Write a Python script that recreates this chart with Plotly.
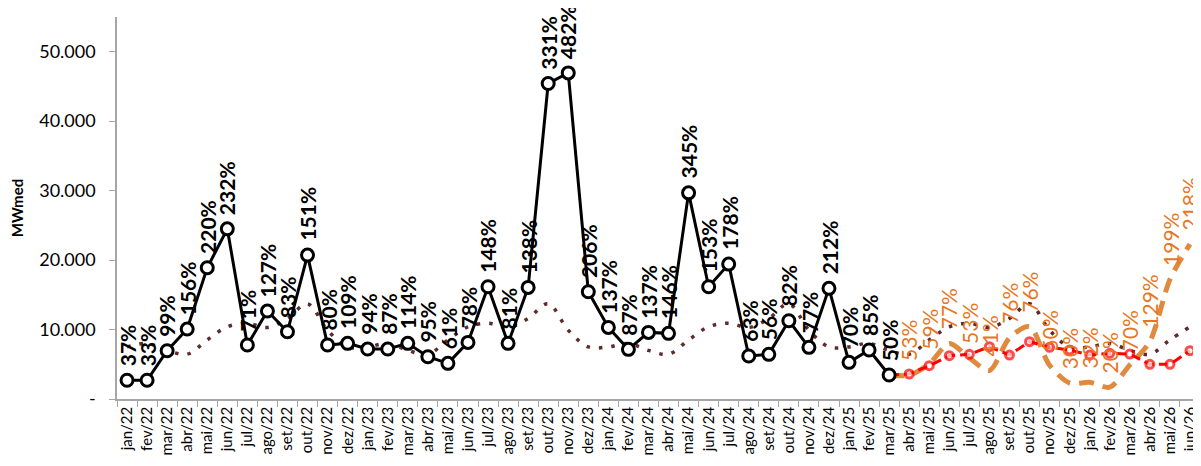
import plotly.graph_objects as go

# Categorias (jan/22 a jun/26)
meses_nome = ["jan", "fev", "mar", "abr", "mai", "jun", "jul", "ago", "set", "out", "nov", "dez"]
meses = [f"{m}/{a}" for a in ["22", "23", "24", "25", "26"] for m in meses_nome][:54]

# Verificado (jan/22 a mar/25), MWmed
verificado = [2700, 2700, 6950, 10070, 18900, 24500, 7770, 12660, 9690, 20720, 7770, 8010,
              7190, 7190, 8010, 6090, 5130, 8150, 16160, 8010, 16070, 45420, 46950, 15440,
              10310, 7150, 9590, 9450, 29680, 16160, 19420, 6190, 6430, 11270, 7440, 15930,
              5280, 7050, 3450]
verificado_pct = ["37%", "33%", "99%", "156%", "220%", "232%", "71%", "127%", "83%", "151%", "80%", "109%",
                  "94%", "87%", "114%", "95%", "61%", "78%", "148%", "81%", "138%", "331%", "482%", "206%",
                  "137%", "87%", "137%", "146%", "345%", "153%", "178%", "63%", "56%", "82%", "77%", "212%",
                  "70%", "85%", "50%"]

# Previsao (mar/25 a jun/26)
previsao = [3450, 3600, 4790, 6230, 6430, 7530, 6330, 8250, 7440, 7050, 6330, 6570, 6470, 4990, 4990, 6950]

# Cenario (mar/25 a jun/26) e % da MLT (abr/25 a jun/26)
cenario = [3450, 3420, 5040, 8000, 5900, 4100, 8800, 10400, 4850, 2300, 2400, 1700, 4900, 8300, 17200, 22300]
cenario_pct = ["53%", "59%", "77%", "53%", "41%", "76%", "76%", "50%", "30%", "32%", "20%", "70%",
               "129%", "199%", "218%"]

# MLT (jan/22 a jun/26)
mlt = [7500, 8000, 7000, 6450, 8500, 10400, 10900, 10300, 11600, 13700, 9900, 7500,
       7500, 8000, 7000, 6450, 8500, 10400, 10900, 10300, 11600, 13700, 9900, 7500,
       7500, 8000, 7000, 6450, 8500, 10400, 10900, 10300, 11600, 13700, 9900, 7500,
       7500, 8000, 7000, 6450, 8500, 10400, 10900, 10300, 11600, 13700, 9900, 7500,
       7500, 8000, 7000, 6450, 8500, 10400]

n_hist = len(verificado)
x_prev = meses[n_hist - 1:]

fig = go.Figure()

fig.add_trace(go.Scatter(
    x=meses, y=mlt, mode="lines",
    line=dict(color="#5E2A2A", width=3.5, dash="3.5px,9px", shape="spline", smoothing=1),
))
fig.add_trace(go.Scatter(
    x=x_prev, y=cenario, mode="lines",
    line=dict(color="#DF8A3E", width=5, dash="15px,9px", shape="spline", smoothing=0.8),
))
fig.add_trace(go.Scatter(
    x=x_prev, y=previsao, mode="lines+markers",
    line=dict(color="#FF0000", width=3, dash="10px,5px"),
    marker=dict(symbol="circle", size=[0] + [8] * (len(previsao) - 1), color="white",
                line=dict(color="#FF0000", width=3)),
))
fig.add_trace(go.Scatter(
    x=meses[:n_hist], y=verificado, mode="lines+markers",
    line=dict(color="black", width=3),
    marker=dict(symbol="circle", size=12, color="white", line=dict(color="black", width=3)),
))

# Rotulos
for i, txt in enumerate(verificado_pct):
    fig.add_annotation(
        x=meses[i], y=verificado[i], text=f"<b>{txt}</b>", textangle=-90,
        showarrow=False, xanchor="center", yanchor="bottom", yshift=12,
        font=dict(size=21, color="black"),
    )
for j, txt in enumerate(cenario_pct):
    fig.add_annotation(
        x=meses[n_hist + j], y=cenario[j + 1], text=txt, textangle=-90,
        showarrow=False, xanchor="center", yanchor="bottom", yshift=12,
        font=dict(size=21, color="#E8761E"),
    )

# a pagina tem 8px de margem no body
fig.update_layout(
    width=1193, height=458,
    margin=dict(l=103, r=1, t=9, b=67),
    plot_bgcolor="white", paper_bgcolor="white",
    showlegend=False,
    font=dict(family="Lato, 'DejaVu Sans', sans-serif", color="black"),
    xaxis=dict(
        type="category", categoryorder="array", categoryarray=meses,
        range=[-0.5, len(meses) - 0.5],
        tickangle=-90, tickfont=dict(size=15),
        ticks="outside", tickson="boundaries", ticklen=6, tickcolor="#A6A6A6",
        showline=True, linecolor="#A6A6A6", linewidth=1.5,
        showgrid=False, zeroline=False,
    ),
    yaxis=dict(
        range=[0, 55000],
        tickvals=[0, 10000, 20000, 30000, 40000, 50000],
        ticktext=["-", "10.000", "20.000", "30.000", "40.000", "50.000"],
        tickfont=dict(size=18),
        ticks="outside", ticklen=6, tickcolor="#A6A6A6", ticklabelstandoff=10,
        showline=True, linecolor="#A6A6A6", linewidth=1.5,
        showgrid=False, zeroline=False,
        title=dict(text="<b>MWmed</b>", font=dict(size=15), standoff=20),
    ),
)

fig.write_html("out.html")
